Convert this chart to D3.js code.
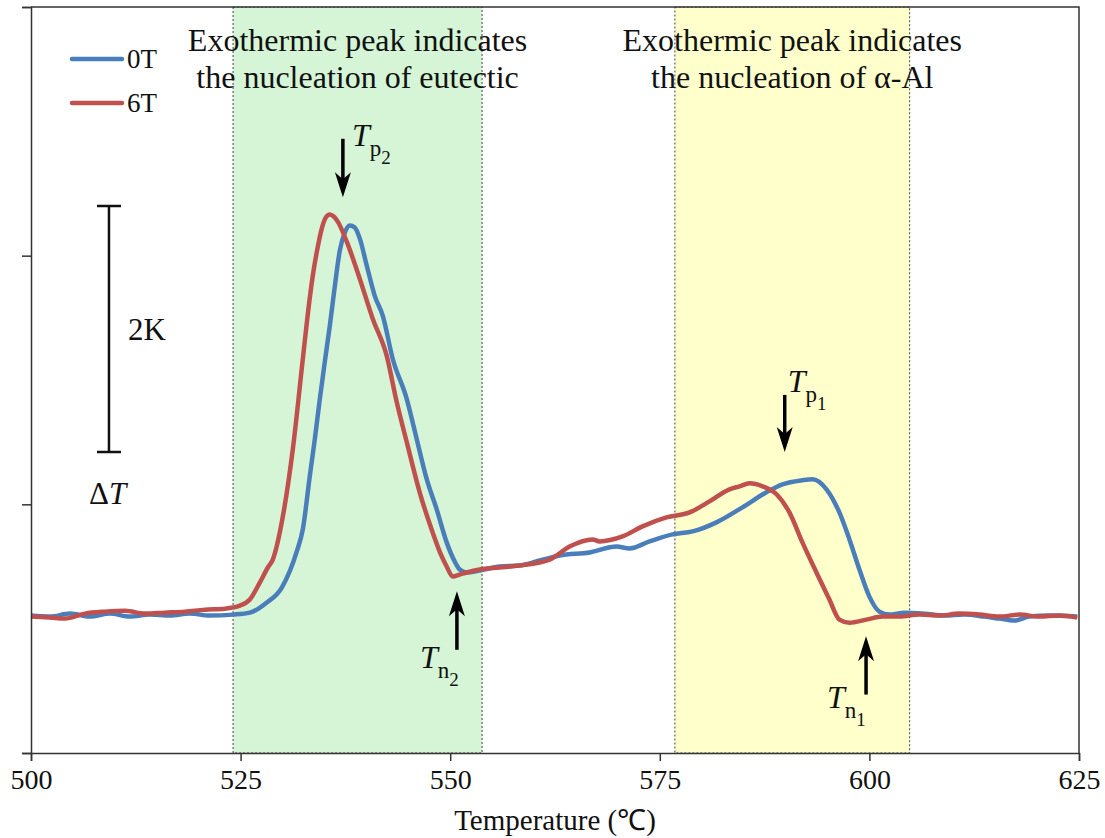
<!DOCTYPE html>
<html>
<head>
<meta charset="utf-8">
<title>DTA curves 0T / 6T</title>
<script src="https://d3js.org/d3.v7.min.js"></script>
<style>
  body { margin: 0; background: #fff; }
  text { font-family: "Liberation Serif", "Times New Roman", serif; fill: #111; }
</style>
</head>
<body>
<script>

// Temperature (C) and Delta T (K)
var tempBlue = [500.0, 502.26, 504.65, 507.03, 509.42, 511.8, 514.18, 516.57, 518.95, 521.33, 524.08, 526.1, 528.13, 529.92, 531.7, 532.42, 533.25, 533.85, 534.45, 535.04, 535.64, 536.23, 536.83, 537.43, 538.02, 538.62, 539.22, 540.05, 541.0, 541.96, 543.15, 544.82, 546.01, 547.2, 548.39, 549.58, 550.54, 551.13, 551.97, 553.52, 555.9, 558.28, 560.67, 563.05, 566.63, 569.85, 571.39, 573.78, 576.52, 578.9, 581.76, 584.86, 587.72, 589.63, 592.01, 593.21, 594.88, 596.42, 597.62, 598.81, 600.0, 601.19, 602.38, 604.17, 606.56, 608.94, 611.32, 613.71, 615.49, 617.28, 619.07, 621.45, 624.79];
var dtBlue = [1.105, 1.097, 1.121, 1.097, 1.121, 1.097, 1.113, 1.105, 1.121, 1.105, 1.113, 1.129, 1.21, 1.331, 1.621, 1.798, 2.226, 2.524, 2.847, 3.145, 3.435, 3.75, 4.04, 4.185, 4.242, 4.226, 4.137, 3.919, 3.677, 3.516, 3.169, 2.847, 2.524, 2.202, 1.96, 1.694, 1.54, 1.476, 1.452, 1.468, 1.5, 1.508, 1.548, 1.589, 1.613, 1.661, 1.645, 1.702, 1.758, 1.782, 1.855, 1.976, 2.097, 2.161, 2.194, 2.202, 2.121, 1.935, 1.718, 1.476, 1.258, 1.137, 1.113, 1.129, 1.121, 1.105, 1.113, 1.097, 1.081, 1.065, 1.097, 1.105, 1.097];

var tempRed = [500.0, 502.26, 504.05, 506.44, 508.82, 511.2, 513.59, 515.97, 518.36, 520.74, 523.12, 524.91, 526.1, 527.29, 528.25, 528.84, 530.04, 531.23, 532.42, 533.02, 533.61, 534.21, 534.68, 535.16, 535.64, 536.11, 536.59, 537.66, 539.21, 540.76, 542.43, 543.62, 544.82, 546.36, 547.91, 548.99, 549.58, 550.3, 551.13, 551.97, 553.52, 555.9, 558.28, 561.86, 564.24, 566.98, 567.82, 570.56, 572.94, 575.8, 578.55, 580.93, 583.31, 584.51, 585.7, 587.25, 588.92, 590.46, 592.01, 593.68, 595.23, 596.42, 597.62, 599.64, 601.55, 603.58, 605.96, 608.34, 610.73, 613.11, 615.49, 617.88, 620.26, 622.65, 624.79];
var dtRed = [1.097, 1.089, 1.081, 1.121, 1.137, 1.145, 1.121, 1.129, 1.137, 1.153, 1.161, 1.185, 1.234, 1.371, 1.492, 1.556, 1.903, 2.444, 3.169, 3.532, 3.839, 4.073, 4.218, 4.306, 4.331, 4.315, 4.274, 4.113, 3.815, 3.492, 3.194, 2.823, 2.5, 2.097, 1.774, 1.581, 1.5, 1.419, 1.435, 1.452, 1.476, 1.492, 1.508, 1.556, 1.661, 1.718, 1.702, 1.742, 1.823, 1.895, 1.935, 2.024, 2.121, 2.145, 2.169, 2.145, 2.081, 1.935, 1.694, 1.452, 1.234, 1.073, 1.048, 1.073, 1.097, 1.097, 1.113, 1.105, 1.121, 1.113, 1.097, 1.113, 1.097, 1.105, 1.089];

var seriesNames = ["0T", "6T"];
var seriesColors = ["#4a7ebb", "#c0504d"];

var xTicks = [500, 525, 550, 575, 600, 625];
var yTicks = [0, 2, 4, 6];

// shaded ranges (temperature)
var regions = [
  { from: 524.1, to: 553.8, fill: "#d5f5d6", lines: ["Exothermic peak indicates", "the nucleation of eutectic"] },
  { from: 576.8, to: 604.8, fill: "#ffffcc", lines: ["Exothermic peak indicates", "the nucleation of \u03b1-Al"] }
];

// arrows: temperature, start dT, tip dT, label sub & index, label offset
var arrows = [
  { t: 537.2, from: 4.94, to: 4.47, sub: "p", idx: "2", lx: 9,  ly: 7 },
  { t: 550.8, from: 0.83, to: 1.30, sub: "n", idx: "2", lx: -37, ly: 18 },
  { t: 589.9, from: 2.88, to: 2.42, sub: "p", idx: "1", lx: 3,  ly: -3 },
  { t: 599.6, from: 0.47, to: 0.94, sub: "n", idx: "1", lx: -39, ly: 13 }
];

var margin = {top: 7, right: 26, bottom: 85, left: 31},
    width = 1105 - margin.left - margin.right,
    height = 838 - margin.top - margin.bottom;

var x = d3.scaleLinear().domain([500, 625]).range([0, width]);
var y = d3.scaleLinear().domain([0, 6]).range([height, 0]);

var svg = d3.select("body")
    .append("svg")
    .attr("width", 1105)
    .attr("height", 838)
    .append("g")
    .attr("transform", "translate(" + margin.left + "," + margin.top + ")");

// shaded regions
regions.forEach(function(r) {
  svg.append("rect")
     .attr("x", x(r.from))
     .attr("y", 0)
     .attr("width", x(r.to) - x(r.from))
     .attr("height", height)
     .style("fill", r.fill)
     .style("stroke", "#444")
     .style("stroke-width", 1)
     .style("stroke-dasharray", "2,2");
  r.lines.forEach(function(s, i) {
    svg.append("text")
       .attr("x", (x(r.from) + x(r.to)) / 2)
       .attr("y", 44 + i * 37)
       .style("text-anchor", "middle")
       .style("font-size", "32px")
       .text(s);
  });
});

// curves
var line = d3.line()
    .x(function(d) { return x(d[0]); })
    .y(function(d) { return y(d[1]); })
    .curve(d3.curveMonotoneX);

var curves = [d3.zip(tempBlue, dtBlue), d3.zip(tempRed, dtRed)];
curves.forEach(function(c, i) {
  svg.append("path")
     .datum(c)
     .attr("d", line)
     .style("fill", "none")
     .style("stroke", seriesColors[i])
     .style("stroke-width", 4.5)
     .style("stroke-linejoin", "round");
});

// axes
var xAxis = svg.append("g")
   .attr("transform", "translate(0," + height + ")")
   .call(d3.axisBottom(x).tickValues(xTicks).tickSize(8).tickPadding(8).tickFormat(d3.format("d")));
var yAxis = svg.append("g")
   .call(d3.axisLeft(y).tickValues(yTicks).tickSize(9).tickFormat(""));
[xAxis, yAxis].forEach(function(a) {
  a.attr("font-family", "Liberation Serif, serif").attr("font-size", 28);
  a.select(".domain").style("stroke", "#333").style("stroke-width", 1.5);
  a.selectAll(".tick line").style("stroke", "#333").style("stroke-width", 1.5);
  a.selectAll(".tick text").style("font-size", "28px").style("fill", "#111");
});

// frame top and right
svg.append("path")
   .attr("d", "M0,0H" + width + "V" + height)
   .style("fill", "none")
   .style("stroke", "#333")
   .style("stroke-width", 1.5);

// x-axis label
svg.append("text")
   .attr("x", x(562.5))
   .attr("y", height + 77)
   .style("text-anchor", "middle")
   .style("font-size", "29px")
   .text("Temperature (\u2103)");

// legend
seriesNames.forEach(function(n, i) {
  var ly = 52 + i * 44;
  svg.append("line")
     .attr("x1", 41).attr("x2", 91)
     .attr("y1", ly).attr("y2", ly)
     .style("stroke", seriesColors[i])
     .style("stroke-width", 4.5)
     .style("stroke-linecap", "round");
  svg.append("text")
     .attr("x", 96).attr("y", ly)
     .attr("dy", "0.35em")
     .style("font-size", "27px")
     .text(n);
});

// scale bar (2K)
var sbx = x(509.3), sTop = y(4.40), sBot = y(2.42);
svg.append("path")
   .attr("d", "M" + (sbx - 12) + "," + sTop + "H" + (sbx + 12) +
              "M" + sbx + "," + sTop + "V" + sBot +
              "M" + (sbx - 12) + "," + sBot + "H" + (sbx + 12))
   .style("fill", "none").style("stroke", "#111").style("stroke-width", 2.5);
svg.append("text")
   .attr("x", sbx + 19).attr("y", (sTop + sBot) / 2 + 11)
   .style("font-size", "31px")
   .text("2K");
var dT = svg.append("text")
   .attr("x", sbx - 20).attr("y", sBot + 52)
   .style("font-size", "31px");
dT.append("tspan").text("\u0394");
dT.append("tspan").style("font-style", "italic").text("T");

// arrows with labels
arrows.forEach(function(a) {
  var ax = x(a.t), y0 = y(a.from), y1 = y(a.to);
  var dir = y1 > y0 ? 1 : -1;
  svg.append("line")
     .attr("x1", ax).attr("x2", ax)
     .attr("y1", y0).attr("y2", y1 - dir * 14)
     .style("stroke", "#000").style("stroke-width", 3.5);
  svg.append("path")
     .attr("d", "M" + ax + "," + y1 +
                "L" + (ax - 8) + "," + (y1 - dir * 25) +
                "L" + ax + "," + (y1 - dir * 18) +
                "L" + (ax + 8) + "," + (y1 - dir * 25) + "Z")
     .style("fill", "#000");
  var lbl = svg.append("text")
     .attr("x", ax + a.lx)
     .attr("y", y0 + a.ly);
  lbl.append("tspan").style("font-style", "italic").style("font-size", "32px").text("T");
  lbl.append("tspan").attr("dy", 10).style("font-size", "23px").text(a.sub);
  lbl.append("tspan").attr("dy", 8).style("font-size", "19px").text(a.idx);
});

</script>
</body>
</html>
